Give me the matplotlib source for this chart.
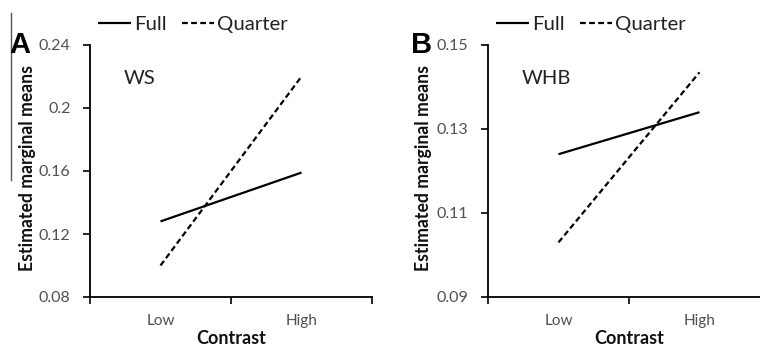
import matplotlib
matplotlib.use("Agg")
import matplotlib.pyplot as plt
from matplotlib.lines import Line2D

plt.rcParams['font.family'] = ['Lato', 'DejaVu Sans']

categories = ["Low", "High"]
panels = ["A", "B"]
titles = ["WS", "WHB"]
full_vals = [[0.128, 0.159], [0.124, 0.134]]
quarter_vals = [[0.100, 0.220], [0.103, 0.1435]]
yticks = [[0.08, 0.12, 0.16, 0.2, 0.24], [0.09, 0.11, 0.13, 0.15]]
ytick_labels = [["0.08", "0.12", "0.16", "0.2", "0.24"], ["0.09", "0.11", "0.13", "0.15"]]
series_names = ["Full", "Quarter"]

W, H = 760, 347
fig = plt.figure(figsize=(W / 100, H / 100), dpi=100)

ax_px = [(90, 372), (488, 770)]
top_px, bot_px = 45, 297
ylabel_x = [28, 423]
letter_x = [9, 411]
title_x = [124, 522]
tick_col = "#505050"

for i in range(2):
    l, r = ax_px[i]
    ax = fig.add_axes([l / W, 1 - bot_px / H, (r - l) / W, (bot_px - top_px) / H])
    ax.set_facecolor("none")
    xs = list(range(len(categories)))
    h1, = ax.plot(xs, full_vals[i], color="black", lw=1.6, solid_capstyle="butt")
    h2, = ax.plot(xs, quarter_vals[i], color="black", lw=1.6, ls=(0, (2.6, 1.5)))
    ax.set_xlim(-0.5, 1.5)
    ax.set_ylim(yticks[i][0], yticks[i][-1])
    ax.set_yticks(yticks[i])
    ax.set_yticklabels(ytick_labels[i], fontsize=11.5, color=tick_col)
    ax.set_xticks([-0.5, 0.5, 1.5])
    ax.set_xticklabels([])
    ax.set_xticks(xs, minor=True)
    ax.set_xticklabels(categories, minor=True, fontsize=11, color=tick_col)
    ax.tick_params(axis='x', which='minor', length=0, pad=12)
    ax.tick_params(axis='x', which='major', length=5, width=1.2, direction='out')
    ax.tick_params(axis='y', length=5, width=1.2, direction='out', pad=9)
    for s in ["top", "right"]:
        ax.spines[s].set_visible(False)
    for s in ["left", "bottom"]:
        ax.spines[s].set_linewidth(1.3)
    ax.set_xlabel("Contrast", fontsize=13, fontweight="bold", labelpad=1.5, color="#111111")
    fig.text(ylabel_x[i] / W, 1 - 168 / H, "Estimated marginal means", rotation=90,
             ha="center", va="center", fontsize=12.7, fontweight="bold", color="#111111")
    fig.text(letter_x[i] / W, 1 - 53 / H, panels[i], fontsize=21, fontweight="bold",
             family="Liberation Sans", ha="left", va="baseline")
    fig.text(title_x[i] / W, 1 - 79 / H, titles[i], fontsize=14.5, ha="left", va="center",
             color="#222222")
    leg = ax.legend([h1, h2], series_names, loc="center left", bbox_to_anchor=(8 / 282, 1.08),
                    ncol=2, frameon=False, fontsize=14.7, handlelength=1.6,
                    handletextpad=0.15, columnspacing=0.75, borderaxespad=0, borderpad=0)
    for t in leg.get_texts():
        t.set_color("#222222")

fig.add_artist(Line2D([11 / W, 11 / W], [1 - 13 / H, 1 - 180 / H], color="#555555", lw=1.0))

fig.savefig("out.png", dpi=100)
